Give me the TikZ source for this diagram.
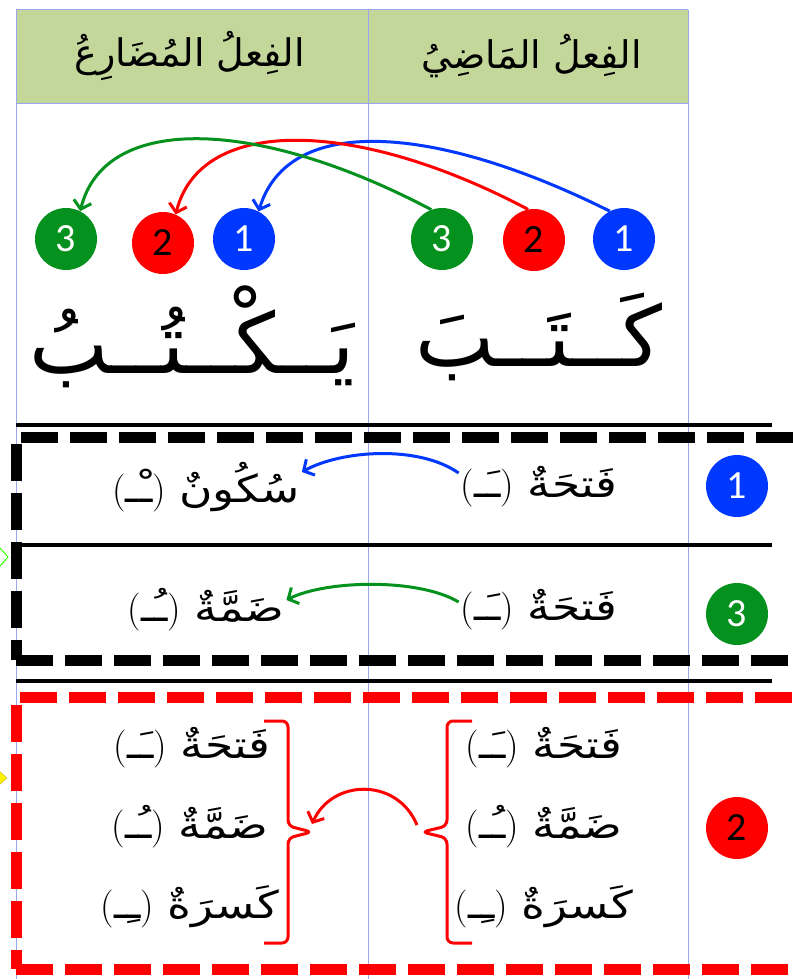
\documentclass[tikz,border=0pt]{standalone}
\usepackage{fontspec}
\usepackage{tikz}
\usetikzlibrary{arrows.meta}
\newfontfamily\arabicfont[Script=Arabic]{DejaVu Sans}
\newfontfamily\arabicwide[Script=Arabic,FakeStretch=1.2]{DejaVu Sans}
\newfontfamily\numfont{Carlito}
\TeXXeTstate=1
\definecolor{headgreen}{RGB}{196,215,155}
\definecolor{gridblue}{RGB}{155,165,240}
\definecolor{mblue}{RGB}{0,56,255}
\definecolor{mred}{RGB}{255,0,0}
\definecolor{mgreen}{RGB}{5,145,30}
\newcommand{\ar}[1]{{\arabicfont\beginR #1\endR}}
\newcommand{\harakah}[2]{(\beginR{\arabicwide #2}\endR)\hspace{0.35em}\beginR{\arabicwide #1}\endR}

\begin{document}
\begin{tikzpicture}[x=1pt,y=-1pt,
  num/.style={circle, inner sep=0pt, minimum size=62pt, font=\numfont\fontsize{40}{40}\selectfont},
  head/.style={font=\fontsize{38}{42}\selectfont, inner sep=2pt},
  word/.style={font=\fontsize{84}{90}\selectfont, inner sep=2pt},
  vowel/.style={font=\fontsize{38}{42}\selectfont, inner sep=2pt},
  bigarrow/.style={line width=3pt, -{Straight Barb[length=8pt,width=18pt]}},
  rowarrow/.style={line width=3pt, -{Straight Barb[length=8pt,width=18pt]}},
  blackdash/.style={line width=11pt, dash pattern=on 37pt off 12pt},
  reddash/.style={line width=11pt, dash pattern=on 37pt off 12pt, mred},
  bracket/.style={line width=3pt, mred, rounded corners=6pt}]
\useasboundingbox (0,0) rectangle (792,979);
\fill[white] (0,0) rectangle (792,979);
% draws table
\fill[headgreen] (16,10) rectangle (688,104);
\draw[gridblue, line width=1pt] (16,10) -- (688,10);
\draw[gridblue, line width=1pt] (16,104) -- (688,104);
\foreach \x in {16,368,688}
  \draw[gridblue, line width=1pt] (\x,10) -- (\x,979);
% headers
\node[head] (hmudari) at (190,56) {\ar{الفِعلُ المُضَارِعُ}};
\node[head] (hmadi) at (532,56) {\ar{الفِعلُ المَاضِيُ}};
% draws letter circles
\node[num, fill=mblue, text=white] (r1) at (624,239) {1};
\node[num, fill=mred] (r2) at (534,240) {2};
\node[num, fill=mgreen, text=white] (r3) at (442,239) {3};
\node[num, fill=mblue, text=white] (l1) at (244,239) {1};
\node[num, fill=mred] (l2) at (163,243) {2};
\node[num, fill=mgreen, text=white] (l3) at (66,239) {3};
% the two verbs
\node[word] (kataba) at (539,337) {\ar{كَــتَــبَ}};
\node[word] (yaktubu) at (192,337) {\ar{يَــكْــتُــبُ}};
% draws arcs between letters
\draw[bigarrow, mblue] (r1.117) .. controls +(-170,-85) and +(30,-100) .. (l1.62);
\draw[bigarrow, mred] (r2.101) .. controls +(-170,-90) and +(25,-100) .. (l2.66);
\draw[bigarrow, mgreen] (r3.110) .. controls +(-170,-90) and +(25,-100) .. (l3.63);
% row lines
\draw[line width=3.5pt] (16,425) -- (772,425);
\draw[line width=3.5pt] (16,545) -- (772,545);
\draw[line width=3.5pt] (16,681) -- (772,681);
% dashed frames
\draw[blackdash] (21,437) -- (800,437);
\draw[blackdash] (16,444) -- (16,660);
\draw[blackdash] (16,660) -- (800,660);
\draw[reddash] (20,697) -- (800,697);
\draw[reddash] (16,705) -- (16,969);
\draw[reddash] (16,969) -- (800,969);
% row numbers
\node[num, fill=mblue, text=white] (n1) at (737,486) {1};
\node[num, fill=mgreen, text=white] (n3) at (737,614) {3};
\node[num, fill=mred] (n2) at (737,828) {2};
% rows 1 and 3
\node[vowel] (fatha1) at (539,487) {\harakah{فَتحَةٌ}{ـَـ}};
\node[vowel] (sukun) at (206,487) {\harakah{سُكُونٌ}{ـْـ}};
\node[vowel] (fatha2) at (539,610) {\harakah{فَتحَةٌ}{ـَـ}};
\node[vowel] (damma1) at (206,610) {\harakah{ضَمَّةٌ}{ـُـ}};
\draw[rowarrow, mblue] ([yshift=14pt]fatha1.west) .. controls +(-40,-28) and +(40,-22) .. ([yshift=15pt]sukun.east);
\draw[rowarrow, mgreen] ([yshift=8pt]fatha2.west) .. controls +(-40,-24) and +(40,-20) .. ([yshift=10pt]damma1.east);
% row 2
\node[vowel] (rfatha) at (544,748) {\harakah{فَتحَةٌ}{ـَـ}};
\node[vowel] (rdamma) at (544,827) {\harakah{ضَمَّةٌ}{ـُـ}};
\node[vowel] (rkasra) at (544,907) {\harakah{كَسرَةٌ}{ـِـ}};
\node[vowel] (lfatha) at (192,748) {\harakah{فَتحَةٌ}{ـَـ}};
\node[vowel] (ldamma) at (190,827) {\harakah{ضَمَّةٌ}{ـُـ}};
\node[vowel] (lkasra) at (190,907) {\harakah{كَسرَةٌ}{ـِـ}};
\coordinate (rtip) at (422,832);
\coordinate (ltip) at (312,832);
\draw[bracket] (472,721) -- (447,721) -- (447,826) -- (rtip) -- (447,838) -- (447,943) -- (472,943);
\draw[bracket] (264,721) -- (288,721) -- (288,826) -- (ltip) -- (288,838) -- (288,943) -- (264,943);
\draw[rowarrow, mred] ([xshift=-5pt,yshift=7pt]rtip) .. controls +(-20,-48) and +(20,-45) .. ([yshift=8pt]ltip);
% slide marks at the edge
\draw[green!70!lime, line width=1pt] (0,548) -- (8,557) -- (0,566);
\filldraw[fill=yellow, draw=olive!60] (-4,768) -- (7,778) -- (-4,788) -- cycle;
\end{tikzpicture}
\end{document}
